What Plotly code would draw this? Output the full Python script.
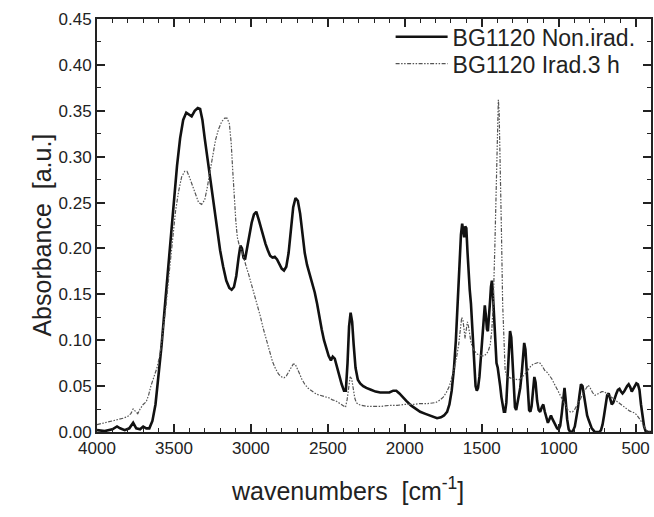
import plotly.graph_objects as go

# ---- data ----
wn_non = [4000, 3950, 3900, 3870, 3850, 3820, 3790, 3765, 3745, 3720, 3700, 3680, 3660, 3640, 3620,
          3600, 3580, 3560, 3540, 3520, 3500, 3480, 3460, 3440, 3420, 3400, 3385, 3365, 3345, 3330,
          3315, 3300, 3280, 3260, 3240, 3220, 3200, 3180, 3160, 3140, 3125, 3110, 3095, 3080, 3068,
          3058, 3048, 3038, 3025, 3010, 2995, 2980, 2965, 2950, 2935, 2920, 2905, 2890, 2875, 2860,
          2845, 2830, 2815, 2800, 2785, 2770, 2755, 2740, 2725, 2710, 2695, 2680, 2665, 2650, 2635,
          2620, 2600, 2585, 2570, 2555, 2540, 2525, 2510, 2495, 2480, 2468, 2455, 2440, 2425, 2410,
          2395, 2383, 2372, 2362, 2352, 2342, 2332, 2320, 2305, 2290, 2270, 2250, 2220, 2190, 2160,
          2130, 2100, 2075, 2055, 2035, 2015, 1990, 1960, 1930, 1900, 1870, 1840, 1815, 1790, 1765,
          1745, 1725, 1710, 1695, 1680, 1668, 1656, 1645, 1635, 1627, 1620, 1614, 1607, 1600, 1592,
          1585, 1578, 1570, 1562, 1555, 1548, 1540, 1532, 1524, 1515, 1505, 1495, 1487, 1480, 1473,
          1466, 1460, 1453, 1446, 1440, 1434, 1428, 1420, 1412, 1404, 1396, 1388, 1380, 1372, 1364,
          1356, 1348, 1340, 1332, 1324, 1316, 1308, 1300, 1292, 1284, 1276, 1268, 1260, 1250, 1240,
          1232, 1224, 1216, 1208, 1200, 1192, 1184, 1176, 1166, 1158, 1150, 1140, 1130, 1120, 1110,
          1100, 1090, 1080, 1070, 1060, 1050, 1040, 1030, 1020, 1010, 1000, 990, 980, 970, 962,
          955, 945, 935, 925, 915, 905, 895, 885, 875, 865, 855, 845, 835, 825, 815,
          805, 795, 785, 775, 765, 755, 745, 735, 725, 715, 705, 695, 685, 675, 665,
          655, 645, 635, 625, 615, 605, 595, 585, 575, 565, 555, 545, 535, 525, 515,
          505, 495, 485, 475, 465, 455, 445, 435, 420, 400]
abs_non = [0.002, 0.001, 0.003, 0.006, 0.004, 0.002, 0.004, 0.010, 0.004, 0.003, 0.006, 0.004, 0.004, 0.012, 0.030,
           0.060, 0.095, 0.135, 0.175, 0.215, 0.255, 0.290, 0.320, 0.340, 0.348, 0.346, 0.344, 0.350, 0.353, 0.352,
           0.340, 0.320, 0.295, 0.268, 0.243, 0.220, 0.198, 0.180, 0.165, 0.157, 0.155, 0.158, 0.170, 0.190, 0.203,
           0.200, 0.190, 0.188, 0.200, 0.215, 0.228, 0.237, 0.240, 0.232, 0.222, 0.215, 0.205, 0.198, 0.192, 0.190,
           0.191, 0.188, 0.183, 0.178, 0.176, 0.180, 0.195, 0.220, 0.245, 0.255, 0.252, 0.238, 0.215, 0.195, 0.182,
           0.173, 0.162, 0.152, 0.140, 0.125, 0.112, 0.100, 0.092, 0.083, 0.078, 0.082, 0.080, 0.070, 0.060, 0.052,
           0.045, 0.045, 0.075, 0.115, 0.130, 0.120, 0.095, 0.070, 0.057, 0.053, 0.050, 0.048, 0.046, 0.044, 0.043,
           0.043, 0.043, 0.045, 0.045, 0.042, 0.038, 0.034, 0.029, 0.025, 0.022, 0.020, 0.018, 0.016, 0.015, 0.016,
           0.018, 0.022, 0.030, 0.045, 0.070, 0.100, 0.140, 0.185, 0.215, 0.227, 0.217, 0.212, 0.224, 0.222, 0.195,
           0.170, 0.155, 0.140, 0.115, 0.090, 0.065, 0.050, 0.045, 0.048, 0.060, 0.085, 0.110, 0.132, 0.138, 0.127,
           0.112, 0.110, 0.122, 0.142, 0.158, 0.165, 0.153, 0.122, 0.090, 0.075, 0.070, 0.062, 0.050, 0.038, 0.028,
           0.022, 0.022, 0.032, 0.060, 0.095, 0.110, 0.103, 0.075, 0.042, 0.027, 0.024, 0.032, 0.042, 0.048, 0.064,
           0.086, 0.097, 0.090, 0.064, 0.037, 0.024, 0.022, 0.028, 0.046, 0.060, 0.054, 0.034, 0.024, 0.022, 0.027,
           0.030, 0.022, 0.014, 0.010, 0.014, 0.018, 0.014, 0.010, 0.006, 0.004, 0.003, 0.007, 0.020, 0.040, 0.048,
           0.036, 0.014, 0.003, 0.000, 0.000, 0.002, 0.006, 0.014, 0.026, 0.040, 0.052, 0.050, 0.040, 0.026, 0.018,
           0.013, 0.008, 0.004, 0.002, 0.000, 0.000, 0.000, 0.000, 0.002, 0.008, 0.018, 0.030, 0.040, 0.042, 0.035,
           0.030, 0.032, 0.038, 0.042, 0.046, 0.047, 0.044, 0.042, 0.044, 0.048, 0.050, 0.052, 0.049, 0.044, 0.047,
           0.051, 0.053, 0.052, 0.046, 0.030, 0.015, 0.006, 0.001, 0.000, 0.000]

wn_irad = [4000, 3950, 3900, 3860, 3830, 3800, 3780, 3765, 3750, 3735, 3720, 3700, 3680, 3665, 3650,
           3630, 3610, 3590, 3570, 3550, 3530, 3510, 3490, 3470, 3450, 3430, 3415, 3400, 3380, 3360,
           3340, 3320, 3300, 3285, 3270, 3250, 3230, 3210, 3190, 3170, 3155, 3140, 3128, 3118, 3108,
           3098, 3088, 3075, 3060, 3045, 3030, 3015, 3000, 2980, 2960, 2940, 2920, 2900, 2880, 2860,
           2840, 2820, 2800, 2785, 2770, 2755, 2740, 2725, 2712, 2700, 2685, 2670, 2650, 2630, 2610,
           2590, 2570, 2550, 2530, 2510, 2490, 2470, 2450, 2430, 2410, 2395, 2385, 2375, 2365, 2355,
           2345, 2335, 2325, 2315, 2300, 2280, 2250, 2200, 2150, 2100, 2050, 2000, 1950, 1900, 1850,
           1800, 1770, 1750, 1730, 1710, 1695, 1680, 1665, 1650, 1640, 1630, 1622, 1615, 1608, 1600,
           1593, 1586, 1578, 1570, 1562, 1555, 1545, 1530, 1515, 1500, 1485, 1470, 1458, 1445, 1435,
           1425, 1415, 1405, 1397, 1392, 1387, 1380, 1372, 1364, 1356, 1348, 1340, 1330, 1315, 1300,
           1285, 1270, 1255, 1240, 1225, 1210, 1195, 1180, 1165, 1150, 1140, 1128, 1115, 1100, 1090,
           1075, 1060, 1045, 1030, 1015, 1000, 985, 970, 955, 940, 925, 910, 895, 880, 865,
           850, 835, 820, 808, 795, 780, 765, 750, 735, 720, 705, 690, 675, 660, 645,
           630, 615, 600, 585, 570, 555, 540, 525, 510, 495, 480, 465, 450, 435, 420, 400]
abs_irad = [0.008, 0.010, 0.012, 0.014, 0.015, 0.017, 0.020, 0.025, 0.022, 0.020, 0.025, 0.030, 0.033, 0.040, 0.050,
            0.060, 0.070, 0.085, 0.110, 0.140, 0.175, 0.210, 0.240, 0.262, 0.278, 0.284, 0.284, 0.278, 0.268, 0.258,
            0.250, 0.248, 0.253, 0.265, 0.280, 0.300, 0.318, 0.330, 0.338, 0.342, 0.342, 0.336, 0.315, 0.285, 0.255,
            0.230, 0.212, 0.203, 0.198, 0.188, 0.180, 0.172, 0.163, 0.152, 0.140, 0.127, 0.113, 0.100, 0.087, 0.077,
            0.069, 0.063, 0.060, 0.059, 0.061, 0.065, 0.070, 0.074, 0.074, 0.070, 0.064, 0.058, 0.052, 0.048, 0.045,
            0.043, 0.041, 0.040, 0.039, 0.038, 0.037, 0.035, 0.034, 0.032, 0.030, 0.028, 0.027, 0.035, 0.050, 0.060,
            0.058, 0.048, 0.037, 0.032, 0.030, 0.029, 0.028, 0.028, 0.028, 0.029, 0.029, 0.030, 0.030, 0.031, 0.031,
            0.032, 0.035, 0.038, 0.043, 0.050, 0.058, 0.068, 0.080, 0.095, 0.110, 0.125, 0.122, 0.110, 0.102, 0.112,
            0.120, 0.115, 0.105, 0.098, 0.093, 0.090, 0.088, 0.085, 0.084, 0.083, 0.083, 0.085, 0.088, 0.095, 0.110,
            0.140, 0.200, 0.280, 0.345, 0.362, 0.350, 0.300, 0.220, 0.140, 0.090, 0.068, 0.062, 0.060, 0.059, 0.058,
            0.058, 0.057, 0.057, 0.059, 0.062, 0.065, 0.069, 0.072, 0.074, 0.075, 0.076, 0.076, 0.074, 0.070, 0.067,
            0.065, 0.062, 0.058, 0.053, 0.048, 0.043, 0.038, 0.033, 0.028, 0.024, 0.022, 0.022, 0.025, 0.029, 0.034,
            0.039, 0.044, 0.048, 0.051, 0.048, 0.043, 0.040, 0.041, 0.043, 0.044, 0.044, 0.042, 0.040, 0.038, 0.036,
            0.034, 0.032, 0.030, 0.028, 0.026, 0.024, 0.023, 0.022, 0.021, 0.019, 0.016, 0.012, 0.008, 0.003, 0.000, 0.000]

series_names = ["BG1120 Non.irad.", "BG1120 Irad.3 h"]
x_ticks = [4000, 3500, 3000, 2500, 2000, 1500, 1000, 500]
y_ticks = [0.00, 0.05, 0.10, 0.15, 0.20, 0.25, 0.30, 0.35, 0.40, 0.45]
x_title = "wavenumbers  [cm<sup>-1</sup>]"
y_title = "Absorbance  [a.u.]"

FONT = "Liberation Sans, Arial, sans-serif"
INK = "#222222"

fig = go.Figure()
fig.add_trace(go.Scatter(x=wn_non, y=abs_non, mode="lines", name=series_names[0],
                         line=dict(color="#111111", width=2.6), legend="legend"))
fig.add_trace(go.Scatter(x=wn_irad, y=abs_irad, mode="lines", name=series_names[1],
                         line=dict(color="#555555", width=1.2, dash="4px,1.5px,1.5px,1.5px,1.5px,1.5px"),
                         legend="legend2"))

leg_common = dict(xanchor="left", yanchor="middle", bgcolor="rgba(0,0,0,0)", borderwidth=0,
                  font=dict(size=23, family=FONT, color=INK), itemwidth=52)

fig.update_layout(
    width=654, height=517,
    margin=dict(l=97, r=1, t=19, b=85),
    paper_bgcolor="white", plot_bgcolor="white",
    font=dict(family=FONT, color=INK),
    showlegend=True,
    legend=dict(x=0.530, y=0.957, **leg_common),
    legend2=dict(x=0.530, y=0.892, **leg_common),
    annotations=[
        dict(text=x_title, xref="paper", yref="paper", x=0.453, y=-0.138,
             xanchor="center", yanchor="middle", showarrow=False,
             font=dict(size=25, family=FONT, color=INK)),
        dict(text=y_title, xref="paper", yref="paper", x=-0.100, y=0.477, textangle=-90,
             xanchor="center", yanchor="middle", showarrow=False,
             font=dict(size=25, family=FONT, color=INK)),
    ],
)

fig.update_xaxes(
    range=[4000, 400], tickvals=x_ticks, ticktext=[str(v) for v in x_ticks],
    ticks="inside", ticklen=8, tickwidth=1.5, tickcolor=INK,
    minor=dict(dtick=100, tick0=0, ticks="inside", ticklen=4, tickwidth=1.2, tickcolor=INK),
    showline=True, linewidth=2, linecolor=INK, mirror="ticks",
    showgrid=False, zeroline=False,
    tickfont=dict(size=17, family=FONT, color=INK),
)
fig.update_yaxes(
    range=[0, 0.45], tickvals=y_ticks, tickformat=".2f",
    ticks="inside", ticklen=8, tickwidth=1.5, tickcolor=INK,
    minor=dict(dtick=0.025, tick0=0, ticks="inside", ticklen=4, tickwidth=1.2, tickcolor=INK),
    showline=True, linewidth=2, linecolor=INK, mirror="ticks",
    showgrid=False, zeroline=False,
    tickfont=dict(size=17, family=FONT, color=INK),
)

fig.write_html("out.html")
